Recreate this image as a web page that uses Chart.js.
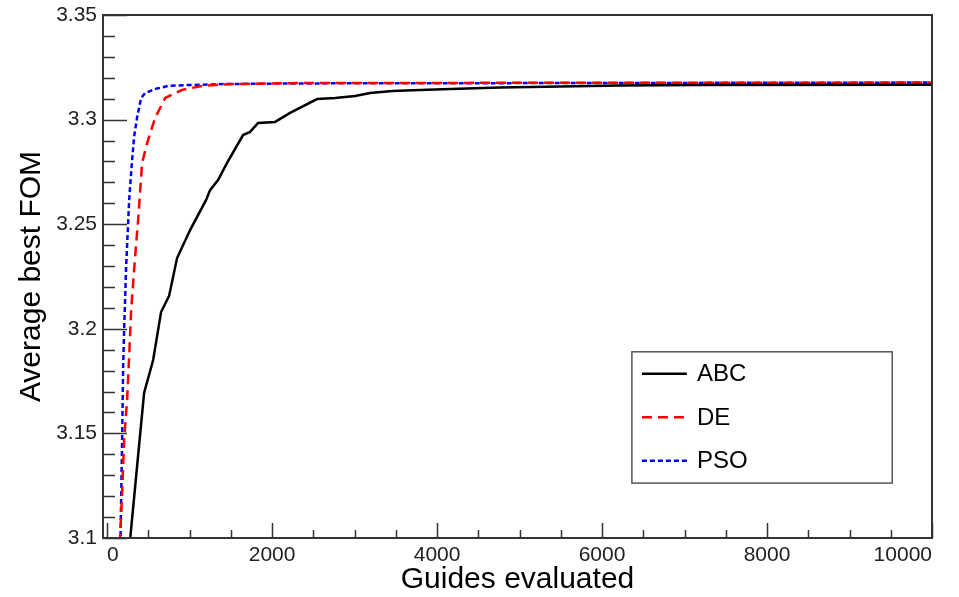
<html>
  <head>
    <script src="https://cdn.jsdelivr.net/npm/chart.js@4.4.1/dist/chart.umd.min.js"></script>
    <style>
      body { margin: 0; background: #fff; }
      #wrap { width: 959px; height: 597px; }
    </style>
  </head>
  <body>
    <div id="wrap"><canvas id="fomChart" width="959" height="597"></canvas></div>
    <script>
      // values
      var abcX = [255, 448, 558, 654, 751, 848, 1006, 1200, 1248, 1345, 1454, 1648, 1733, 1830, 2036, 2218, 2545, 2764, 3006, 3188, 3455, 3794, 4158, 4764, 5491, 6218, 7188, 10000];
      var abcY = [3.0895, 3.1693, 3.1851, 3.208, 3.2157, 3.2338, 3.2472, 3.2616, 3.2663, 3.2711, 3.2793, 3.2926, 3.2941, 3.2984, 3.2989, 3.3032, 3.3098, 3.3103, 3.3113, 3.3127, 3.3137, 3.3141, 3.3146, 3.3153, 3.3158, 3.3163, 3.3165, 3.3166];

      var deX = [145, 182, 206, 242, 267, 291, 339, 376, 424, 485, 582, 703, 909, 1151, 1491, 2339, 10000];
      var deY = [3.0895, 3.1215, 3.1469, 3.166, 3.1865, 3.209, 3.2343, 3.252, 3.2793, 3.2888, 3.3008, 3.3103, 3.3142, 3.3161, 3.317, 3.3175, 3.3177];

      var psoX = [158, 170, 182, 194, 206, 218, 230, 255, 267, 303, 327, 364, 412, 461, 582, 739, 982, 1430, 2339, 10000];
      var psoY = [3.0895, 3.1182, 3.1469, 3.1813, 3.1994, 3.2138, 3.2295, 3.2506, 3.2616, 3.2807, 3.2917, 3.3012, 3.3103, 3.3127, 3.3146, 3.3161, 3.3165, 3.317, 3.3173, 3.3177];

      var xTicks = [0, 2000, 4000, 6000, 8000, 10000];
      var yTicks = [3.1, 3.15, 3.2, 3.25, 3.3, 3.35];

      const toPoints = (xs, ys) => xs.map((x, i) => ({ x: x, y: ys[i] }));
      var fam = "'Liberation Sans', Arial, sans-serif";

      // ROOT style frame, inward ticks and legend box
      var rootFrame = {
        id: "rootFrame",
        afterDatasetsDraw(chart) {
          var ctx = chart.ctx;
          var a = chart.chartArea;
          var xs = chart.scales.x;
          var ys = chart.scales.y;
          ctx.save();
          ctx.strokeStyle = "#333";
          ctx.lineWidth = 1.5;
          ctx.beginPath();
          for (var v = 3.1; v <= 3.3501; v += 0.01) {
            var py = Math.round(ys.getPixelForValue(v)) + 0.5;
            var major = Math.abs(v * 20 - Math.round(v * 20)) < 1e-6;
            ctx.moveTo(a.left, py);
            ctx.lineTo(a.left + (major ? 24 : 12), py);
          }
          for (var t = 0; t <= 10000; t += 500) {
            var px = Math.round(xs.getPixelForValue(t)) + 0.5;
            ctx.moveTo(px, a.bottom);
            ctx.lineTo(px, a.bottom - (t % 2000 === 0 ? 15 : 8));
          }
          ctx.stroke();
          ctx.lineWidth = 2;
          ctx.strokeRect(a.left, a.top, a.right - a.left, a.bottom - a.top);

          // legend
          var w = a.right - a.left, h = a.bottom - a.top;
          var bx = a.left + w * 0.638, by = a.top + h * 0.644;
          var bw = w * 0.314, bh = h * 0.251;
          ctx.fillStyle = "#fff";
          ctx.fillRect(bx, by, bw, bh);
          ctx.strokeStyle = "#555";
          ctx.lineWidth = 1.5;
          ctx.strokeRect(bx, by, bw, bh);
          ctx.font = "24px " + fam;
          ctx.textBaseline = "middle";
          chart.data.datasets.forEach((ds, i) => {
            var ly = by + 22 + i * 43.5;
            ctx.strokeStyle = ds.borderColor;
            ctx.lineWidth = ds.borderWidth;
            ctx.setLineDash(ds.borderDash || []);
            ctx.beginPath();
            ctx.moveTo(bx + 10, ly);
            ctx.lineTo(bx + 55, ly);
            ctx.stroke();
            ctx.setLineDash([]);
            ctx.fillStyle = "#000";
            ctx.fillText(ds.label, bx + 65, ly + 1);
          });
          ctx.restore();
        },
      };

      var ctx = document.getElementById("fomChart").getContext("2d");
      var myChart = new Chart(ctx, {
        type: "line",
        data: {
          datasets: [
            {
              label: "ABC",
              data: toPoints(abcX, abcY),
              borderColor: "#000000",
              borderWidth: 2.5,
              pointRadius: 0,
              fill: false,
              clip: 0,
            },
            {
              label: "DE",
              data: toPoints(deX, deY),
              borderColor: "#ff0000",
              borderWidth: 2.5,
              borderDash: [10, 6],
              pointRadius: 0,
              fill: false,
              clip: 0,
            },
            {
              label: "PSO",
              data: toPoints(psoX, psoY),
              borderColor: "#0000ff",
              borderWidth: 2.5,
              borderDash: [5, 3],
              pointRadius: 0,
              fill: false,
              clip: 0,
            },
          ],
        },
        options: {
          responsive: false,
          animation: false,
          layout: { padding: { top: 15, right: 27, left: 0, bottom: 0 } },
          plugins: { legend: { display: false }, tooltip: { enabled: false } },
          scales: {
            x: {
              type: "linear",
              min: -50,
              max: 10000,
              grid: { display: false, drawTicks: false },
              border: { display: false },
              afterBuildTicks: (s) => { s.ticks = xTicks.map((v) => ({ value: v })); },
              afterFit: (s) => { s.height = 59; s.paddingLeft = 0; s.paddingRight = 0; },
              ticks: {
                color: "#222",
                padding: 5,
                maxRotation: 0,
                align: "inner",
                callback: (v) => String(v),
                font: { family: fam, size: 21 },
              },
              title: {
                display: true,
                text: "Guides evaluated",
                color: "#000",
                padding: { top: 0, bottom: 2 },
                font: { family: fam, size: 30, lineHeight: 1 },
              },
            },
            y: {
              type: "linear",
              min: 3.1,
              max: 3.35,
              grid: { display: false, drawTicks: false },
              border: { display: false },
              afterBuildTicks: (s) => { s.ticks = yTicks.map((v) => ({ value: v })); },
              afterFit: (s) => { s.width = 103; s.paddingTop = 0; s.paddingBottom = 0; },
              ticks: {
                color: "#222",
                padding: 6,
                callback: (v) => String(Math.round(v * 100) / 100),
                font: { family: fam, size: 21 },
              },
              title: {
                display: true,
                text: "Average best FOM",
                color: "#000",
                padding: { top: 17, bottom: 0 },
                font: { family: fam, size: 30, lineHeight: 1 },
              },
            },
          },
        },
        plugins: [rootFrame],
      });
    </script>
  </body>
</html>
